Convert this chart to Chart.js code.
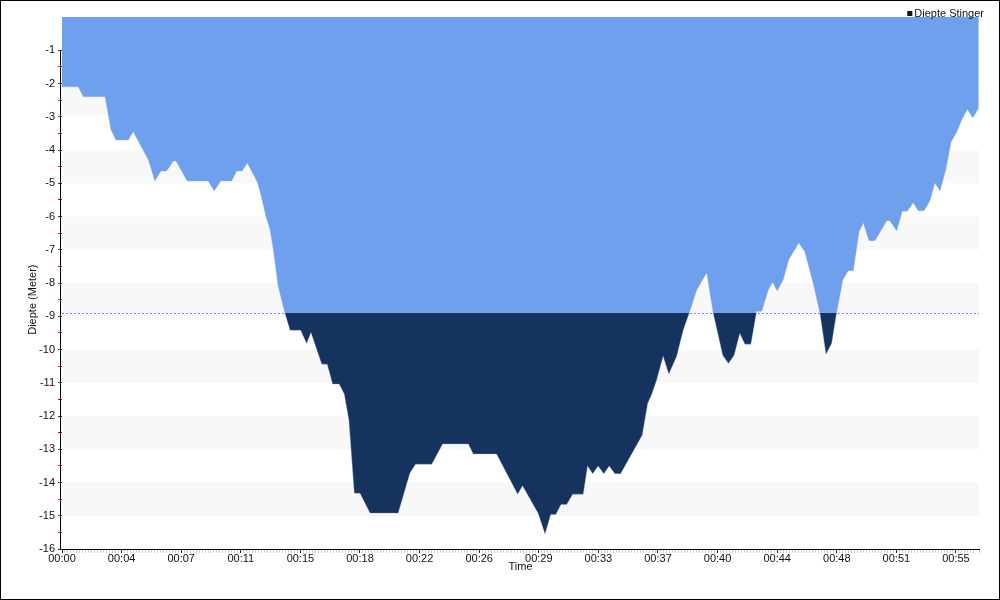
<!DOCTYPE html>
<html>
<head>
<meta charset="utf-8">
<title>Diepte Stinger</title>
<style>
  html, body { margin: 0; padding: 0; background: #fff; }
</style>
<script src="https://cdn.jsdelivr.net/npm/chart.js@4.4.1/dist/chart.umd.min.js"></script>
</head>
<body>
<canvas id="diveChart" width="1000" height="600"></canvas>
<script>
// dive profile, time in seconds from start
var seconds = [0,60,79,159,181,199,245,263,319,343,
  365,386,411,421,462,540,562,586,626,645,
  665,684,721,733,753,768,780,798,823,842,
  881,903,919,959,979,999,1023,1042,1059,1079,
  1100,1137,1241,1284,1305,1365,1405,1500,1518,1604,
  1682,1700,1758,1783,1804,1823,1842,1863,1885,1924,
  1940,1959,1979,2000,2020,2041,2062,2142,2162,2176,
  2195,2219,2240,2269,2293,2315,2343,2380,2404,2439,
  2460,2481,2502,2521,2543,2564,2583,2607,2623,2640,
  2662,2683,2720,2742,2773,2798,2820,2841,2859,2882,
  2902,2921,2942,2958,2979,3001,3044,3056,3081,3102,
  3120,3142,3161,3182,3204,3222,3241,3262,3282,3303,
  3321,3342,3362,3384];

var depth = [-2.1,-2.1,-2.4,-2.4,-3.4,-3.7,-3.7,-3.45,-4.3,-4.93,
  -4.63,-4.63,-4.33,-4.33,-4.93,-4.93,-5.23,-4.93,-4.93,-4.63,
  -4.63,-4.39,-4.96,-5.31,-6.0,-6.4,-7.0,-8.1,-8.91,-9.42,
  -9.42,-9.82,-9.49,-10.44,-10.44,-11.04,-11.04,-11.34,-12.12,-14.32,
  -14.32,-14.92,-14.92,-13.72,-13.45,-13.45,-12.84,-12.84,-13.14,-13.14,
  -14.35,-14.1,-14.93,-15.55,-14.96,-14.96,-14.66,-14.66,-14.35,-14.35,
  -13.5,-13.74,-13.5,-13.74,-13.5,-13.74,-13.74,-12.57,-11.62,-11.37,
  -10.92,-10.2,-10.74,-10.2,-9.42,-8.91,-8.21,-7.69,-8.91,-10.17,
  -10.42,-10.17,-9.52,-9.84,-9.84,-8.85,-8.85,-8.21,-7.98,-8.23,
  -7.91,-7.29,-6.79,-7.06,-8.01,-8.91,-10.14,-9.82,-8.91,-7.91,
  -7.63,-7.63,-6.46,-6.19,-6.73,-6.73,-6.13,-6.13,-6.43,-5.84,
  -5.84,-5.59,-5.83,-5.83,-5.53,-4.99,-5.23,-4.61,-3.76,-3.45,
  -3.1,-2.77,-3.03,-2.73];

var xTickLabels = ['00:00','00:04','00:07','00:11','00:15','00:18','00:22','00:26',
  '00:29','00:33','00:37','00:40','00:44','00:48','00:51','00:55'];

var threshold = -8.9;
var xMajorStep = 220, xMinorStep = 11;

var lightBlue = '#6fa0ee',
    darkBlue = '#16325f',
    bandGray = '#f8f8f8',
    limitColor = '#8484ff',
    fontFamily = '"Liberation Sans", Arial, sans-serif';

Chart.defaults.font.family = fontFamily;
Chart.defaults.font.size = 11;
Chart.defaults.color = '#111';

function fillGradient(context) {
  var chart = context.chart;
  var area = chart.chartArea;
  if (!area) return lightBlue;
  var yPix = chart.scales.y.getPixelForValue(threshold);
  var stop = (yPix - area.top) / (area.bottom - area.top);
  stop = Math.max(0, Math.min(1, stop));
  var g = chart.ctx.createLinearGradient(0, area.top, 0, area.bottom);
  g.addColorStop(0, lightBlue);
  g.addColorStop(stop, lightBlue);
  g.addColorStop(stop, darkBlue);
  g.addColorStop(1, darkBlue);
  return g;
}

// alternating bands + dotted limit line, under the data
var backdrop = {
  id: 'backdrop',
  beforeDraw: function(chart) {
    var ctx = chart.ctx, a = chart.chartArea, y = chart.scales.y;
    ctx.save();
    ctx.fillStyle = bandGray;
    for (var v = y.max; v > y.min; v -= 2) {
      var t = y.getPixelForValue(v), b = y.getPixelForValue(v - 1);
      ctx.fillRect(a.left, t, a.right - a.left, b - t);
    }
    var ly = Math.round(y.getPixelForValue(threshold)) + 0.5;
    ctx.strokeStyle = limitColor;
    ctx.lineWidth = 1;
    ctx.setLineDash([2, 2]);
    ctx.beginPath();
    ctx.moveTo(a.left, ly);
    ctx.lineTo(a.right, ly);
    ctx.stroke();
    ctx.restore();
  }
};

// frame, y axis line/title and the legend
var decorations = {
  id: 'decorations',
  afterDraw: function(chart) {
    var ctx = chart.ctx, a = chart.chartArea, y = chart.scales.y;
    ctx.save();
    ctx.strokeStyle = '#000';
    ctx.lineWidth = 1;
    ctx.strokeRect(0.5, 0.5, chart.width - 1, chart.height - 1);

    var ax = a.left - 1.5;
    var top = y.getPixelForValue(-1), bottom = y.getPixelForValue(y.min);
    ctx.beginPath();
    ctx.moveTo(ax, top);
    ctx.lineTo(ax, bottom);
    ctx.stroke();

    ctx.fillStyle = '#111';
    ctx.font = '11px ' + fontFamily;
    ctx.textAlign = 'center';
    ctx.textBaseline = 'middle';
    ctx.translate(33, (top + bottom) / 2);
    ctx.rotate(-Math.PI / 2);
    ctx.fillText('Diepte (Meter)', 0, 0);
    ctx.setTransform(1, 0, 0, 1, 0, 0);

    var label = chart.data.datasets[0].label;
    ctx.textAlign = 'right';
    ctx.fillText(label, chart.width - 16, 14);
    var w = ctx.measureText(label).width;
    ctx.fillRect(chart.width - 16 - w - 7, 11, 5, 5);
    ctx.restore();
  }
};

var chart = new Chart(document.getElementById('diveChart'), {
  type: 'line',
  data: {
    datasets: [{
      label: 'Diepte Stinger',
      data: seconds.map(function(s, i) { return {x: s, y: depth[i]}; }),
      fill: 'end',
      backgroundColor: fillGradient,
      borderColor: 'rgba(150,165,195,0.35)',
      borderWidth: 1,
      pointRadius: 0,
      tension: 0
    }]
  },
  options: {
    responsive: false,
    animation: false,
    events: [],
    layout: { padding: { left: 27, right: 21, top: 17, bottom: 27.5 } },
    plugins: {
      legend: { display: false },
      tooltip: { enabled: false }
    },
    scales: {
      x: {
        type: 'linear',
        min: 0,
        max: 3385,
        afterFit: function(s) { s.height = 23.5; },
        border: { color: '#000' },
        grid: {
          drawOnChartArea: false,
          tickLength: 4,
          tickColor: function(c) {
            var i = Math.round(c.tick.value / xMinorStep);
            return i % (xMajorStep / xMinorStep) === 0 ? '#222' : 'rgba(0,0,0,0.18)';
          }
        },
        ticks: {
          stepSize: xMinorStep,
          autoSkip: false,
          maxRotation: 0,
          padding: 0,
          font: { size: 11, lineHeight: 1 },
          callback: function(v) {
            var i = Math.round(v / xMinorStep);
            var n = xMajorStep / xMinorStep;
            return i % n === 0 ? xTickLabels[i / n] : '';
          }
        },
        title: { display: true, text: 'Time', padding: 0, font: { size: 11, lineHeight: 1 } }
      },
      y: {
        type: 'linear',
        min: -16,
        max: 0,
        afterFit: function(s) { s.width = 35; },
        border: { display: false },
        grid: {
          drawOnChartArea: false,
          tickLength: 4,
          tickColor: function(c) {
            var v = c.tick.value;
            if (v > -1) return 'rgba(0,0,0,0)';
            return Number.isInteger(v) ? '#333' : '#e00000';
          }
        },
        ticks: {
          stepSize: 0.5,
          autoSkip: false,
          padding: 3,
          callback: function(v) {
            return (Number.isInteger(v) && v !== 0) ? String(v) : '';
          }
        }
      }
    }
  },
  plugins: [backdrop, decorations]
});
</script>
</body>
</html>
